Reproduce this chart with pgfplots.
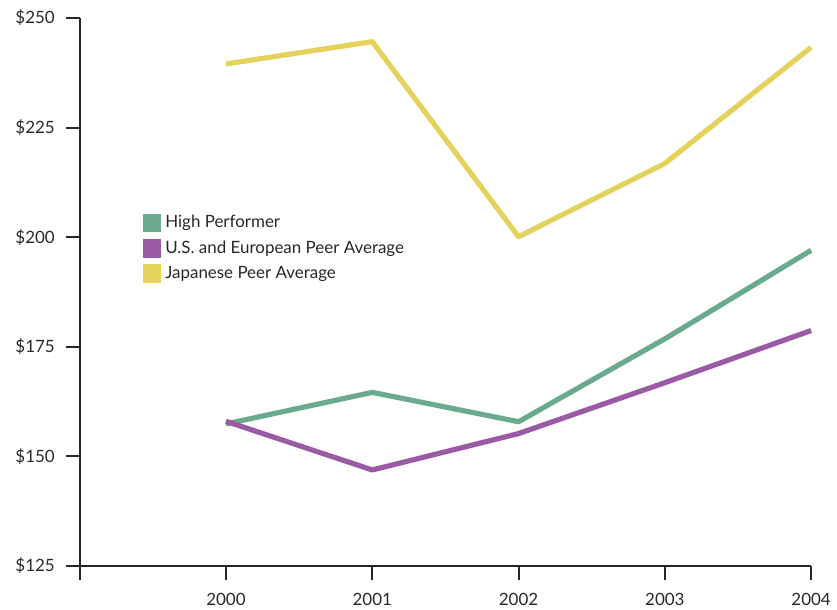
\documentclass[border=0pt]{standalone}
\usepackage{pgfplots}
\pgfplotsset{compat=1.18}
\usepackage{fontspec}
\setmainfont{Lato}
\usetikzlibrary{calc}
\definecolor{hpgreen}{RGB}{106,170,142}
\definecolor{eupurple}{RGB}{155,90,165}
\definecolor{jpyellow}{RGB}{228,210,92}
\definecolor{txt}{RGB}{40,40,40}
\begin{document}
\begin{tikzpicture}[x=1pt,y=1pt]
\begin{axis}[
  name=ax,
  scale only axis,
  width=367pt, height=275pt,
  xmin=1999, xmax=2004,
  ymin=125, ymax=250,
  axis x line*=bottom,
  axis y line*=left,
  axis line style={line width=1pt, color=black!85},
  every tick/.style={line width=1pt, color=black!85},
  tick align=outside,
  major tick length=7pt,
  xtick={1999,2000,2001,2002,2003,2004},
  xticklabels={,2000,2001,2002,2003,2004},
  ytick={125,150,175,200,225,250},
  yticklabels={\$125,\$150,\$175,\$200,\$225,\$250},
  /pgf/number format/assume math mode=true,
  tick label style={font=\fontsize{8.5}{10}\selectfont, text=txt},
  xticklabel style={yshift=-3pt},
  yticklabel style={xshift=-2pt},
  clip=false,
  legend style={at={(0.086,0.648)}, anchor=north west, draw=none, fill=none,
    font=\fontsize{8.5}{10}\selectfont, text=txt, row sep=1pt,
    inner sep=0pt},
  legend cell align=left,
  legend image code/.code={\fill[#1, line join=miter] (0pt,-3.3pt) rectangle (6.6pt,3.3pt);},
]
\addplot[hpgreen, line width=2.6pt, line join=round] coordinates {
  (2000,157.4) (2001,164.6) (2002,157.9) (2003,176.8) (2004,197.0)};
\addlegendentry{High Performer}
\addplot[eupurple, line width=2.6pt, line join=round] coordinates {
  (2000,158.0) (2001,146.9) (2002,155.2) (2003,166.8) (2004,178.7)};
\addlegendentry{U.S. and European Peer Average}
\addplot[jpyellow, line width=2.6pt, line join=round] coordinates {
  (2000,239.5) (2001,244.6) (2002,200.1) (2003,216.8) (2004,243.3)};
\addlegendentry{Japanese Peer Average}
\end{axis}
\pgfresetboundingbox
\path ($(ax.south west)+(-40pt,-22pt)$) rectangle ($(ax.north east)+(13pt,9pt)$);
\end{tikzpicture}
\end{document}
